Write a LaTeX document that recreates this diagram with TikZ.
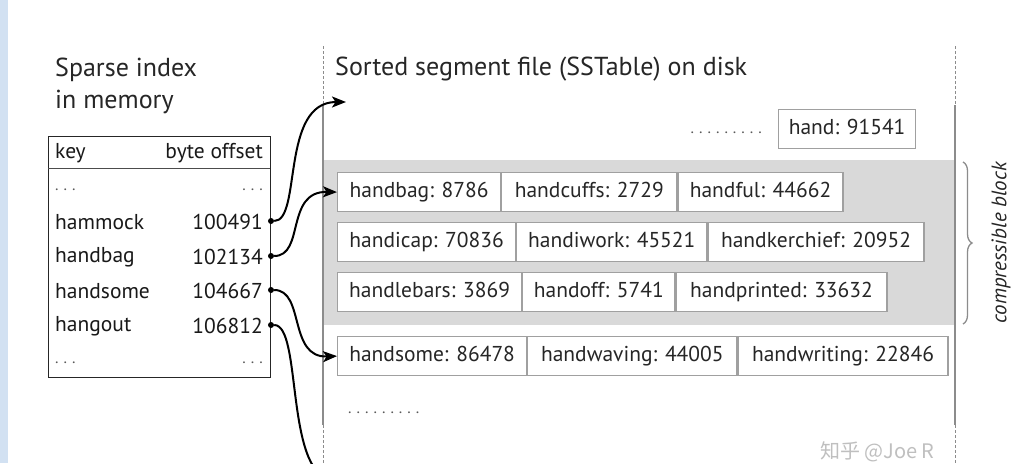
\documentclass[tikz,border=0pt]{standalone}
\usepackage{fontspec}
\setmainfont{PT Sans}
\newfontfamily\cjkfont{Noto Sans CJK SC}
\usetikzlibrary{arrows.meta,decorations.pathreplacing}
\definecolor{blockgray}{HTML}{D9D9D9}
\definecolor{cellline}{HTML}{A0A0A0}
\definecolor{axisgray}{HTML}{8C8C8C}
\definecolor{stripblue}{HTML}{D2E1F2}
\begin{document}
\begin{tikzpicture}[x=1pt,y=-1pt,
  cell/.style={draw=cellline, line width=1.2pt, fill=white, minimum height=39pt,
    anchor=north west, inner sep=0pt, text=black!85, text height=15.5pt, text depth=4.7pt,
    font=\fontsize{21.5}{21.5}\selectfont},
  title/.style={anchor=west, inner sep=0pt, text=black!85, font=\fontsize{26}{26}\selectfont},
  rowtxt/.style={inner sep=0pt, text=black!90, font=\fontsize{21.5}{21.5}\selectfont},
  elide/.style={inner sep=0pt, text=black!65,
    font=\fontsize{16}{16}\selectfont\addfontfeature{LetterSpace=25}},
  pin/.style={circle, fill=black, inner sep=0pt, minimum size=6pt},
  link/.style={line width=2pt, -{Stealth[length=14pt,width=11pt,inset=3.5pt]}},
  axis/.style={draw=axisgray, line width=1.8pt},
  axisdash/.style={draw=axisgray, line width=1pt, dash pattern=on 3pt off 2pt},
]
\useasboundingbox (0,0) rectangle (1024,463);
\fill[white] (0,0) rectangle (1024,463);
\fill[stripblue] (0,0) rectangle (8,463);

% ---- sparse index in memory ----
\node[title] (idxa) at (55,70) {Sparse index};
\node[title] (idxb) at (55,102) {in memory};
\node[draw=black!85, line width=1.4pt, minimum width=222pt, minimum height=241pt,
  anchor=north west, inner sep=0pt] (table) at (48,136) {};
\draw[black!70, line width=0.9pt] (48,168) -- (270,168);
\node[rowtxt, anchor=west] (hkey) at (55,153) {key};
\node[rowtxt, anchor=east] (hoff) at (263,153) {byte offset};
\node[elide, anchor=west] (e1) at (55,190) {...};
\node[elide, anchor=east] (e2) at (263,190) {...};
\node[rowtxt, anchor=west] (k1) at (55,222) {hammock};
\node[rowtxt, anchor=east] (o1) at (263,222) {100491};
\node[rowtxt, anchor=west] (k2) at (55,257) {handbag};
\node[rowtxt, anchor=east] (o2) at (263,257) {102134};
\node[rowtxt, anchor=west] (k3) at (55,291) {handsome};
\node[rowtxt, anchor=east] (o3) at (263,291) {104667};
\node[rowtxt, anchor=west] (k4) at (55,326) {hangout};
\node[rowtxt, anchor=east] (o4) at (263,326) {106812};
\node[elide, anchor=west] (e3) at (55,363) {...};
\node[elide, anchor=east] (e4) at (263,363) {...};
\node[pin] (p1) at (271,221) {};
\node[pin] (p2) at (271,256) {};
\node[pin] (p3) at (271,290) {};
\node[pin] (p4) at (271,325) {};

% ---- sorted segment file on disk ----
\fill[blockgray] (323,160) rectangle (955,325);
\draw[axisdash] (323,46) -- (323,105);
\draw[axis] (323,105) -- (323,425);
\draw[axisdash] (323,425) -- (323,463);
\draw[axisdash] (955,46) -- (955,105);
\draw[axis] (955,105) -- (955,425);
\draw[axisdash] (955,425) -- (955,463);
\node[title] (sst) at (335,69) {Sorted segment file (SSTable) on disk};

\node[elide, anchor=east] (dtop) at (762,133) {.........};
\node[cell, minimum width=137pt] (hand) at (778,109) {hand: 91541};

\node[cell, minimum width=163pt] (a1) at (337,172) {handbag: 8786};
\node[cell, minimum width=175pt] (a2) at (a1.north east) {handcuffs: 2729};
\node[cell, minimum width=165pt] (a3) at (a2.north east) {handful: 44662};

\node[cell, minimum width=178pt] (b1) at (337,222) {handicap: 70836};
\node[cell, minimum width=190pt] (b2) at (b1.north east) {handiwork: 45521};
\node[cell, minimum width=216pt] (b3) at (b2.north east) {handkerchief: 20952};

\node[cell, minimum width=184pt] (r1) at (337,272) {handlebars: 3869};
\node[cell, minimum width=152pt] (r2) at (r1.north east) {handoff: 5741};
\node[cell, minimum width=211pt] (r3) at (r2.north east) {handprinted: 33632};

\node[cell, minimum width=189pt] (s1) at (337,336) {handsome: 86478};
\node[cell, minimum width=209pt] (s2) at (s1.north east) {handwaving: 44005};
\node[cell, minimum width=210pt] (s3) at (s2.north east) {handwriting: 22846};

\node[elide, anchor=west] (dbot) at (348,413) {.........};

% compressible block brace
\draw[axisgray, line width=1.3pt, decorate,
  decoration={brace, amplitude=9pt}] (963,162) -- (963,324);
\node[rotate=90, inner sep=0pt, text=black!85,
  font=\itshape\fontsize{21}{21}\selectfont] (cb) at (1001,243) {compressible block};

% ---- pointers from index into the file ----
\coordinate (t0) at (346,102);
\coordinate (t4) at (340,482);
\draw[link] (p1.east) .. controls (302,221) and (280,102) .. (t0);
\draw[link] (p2.east) .. controls (305,256) and (285,191) .. (a1.west);
\draw[link] (p3.east) .. controls (305,290) and (288,358) .. (s1.west);
\draw[link] (p4.east) .. controls (302,325) and (285,470) .. (t4);

% watermark
\node[anchor=north west, inner sep=0pt, text=black!25,
  font=\cjkfont\fontsize{20}{20}\selectfont] (wm) at (820,441) {知乎 @Joe R};
\end{tikzpicture}
\end{document}
